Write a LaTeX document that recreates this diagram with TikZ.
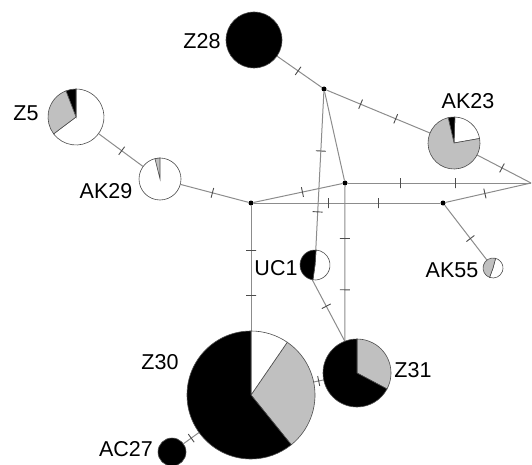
\documentclass[tikz,border=0pt]{standalone}
\usepackage{fontspec}
\setmainfont{Liberation Sans}
\definecolor{piegray}{RGB}{192,192,192}
\definecolor{edgegray}{RGB}{140,140,140}
\tikzset{
  edge/.style={draw=edgegray, line width=1pt},
  tick/.style={sloped, shape=rectangle, draw=black!70, line width=0.9pt, inner sep=0pt, minimum width=0pt, minimum height=10pt},
  junction/.style={circle, fill=black, inner sep=0pt, minimum size=5pt},
  hap/.style={circle, inner sep=0pt, minimum size=#1},
  lbl/.style={font=\fontsize{21.5}{24}\selectfont, inner sep=0pt},
  slice/.style={draw=black!70, line width=0.6pt}
}
\newcommand{\hslice}[5]{\filldraw[slice, fill=#5] (#1.center) -- ++(#3:#2pt) arc[start angle=#3, end angle=#4, radius=#2pt] -- cycle;}
\newcommand{\hfull}[3]{\filldraw[slice, fill=#3] (#1.center) circle[radius=#2pt];}
\begin{document}
\begin{tikzpicture}[x=1pt,y=1pt]
\useasboundingbox (0,0) rectangle (532,-465);
% haplotype nodes
\node[hap=56pt] (Z28) at (254,-40) {};
\node[hap=56pt] (Z5) at (76,-117) {};
\node[hap=42pt] (AK29) at (160,-179) {};
\node[hap=52pt] (AK23) at (454,-143) {};
\node[hap=30pt] (UC1) at (315,-265) {};
\node[hap=128pt] (Z30) at (251,-395) {};
\node[hap=68pt] (Z31) at (357,-373) {};
\node[hap=28pt] (AC27) at (172,-452) {};
\node[hap=20pt] (AK55) at (493,-268) {};
% median vectors
\node[junction] (J1) at (324,-89) {};
\node[junction] (J2) at (345,-183) {};
\node[junction] (J3) at (443,-203) {};
\node[junction] (J4) at (251,-203) {};
\coordinate (V) at (531,-183);
% edges
\draw[edge] (Z28) -- node[tick,pos=0.47]{} (J1);
\draw[edge] (J1) -- node[tick,pos=0.33]{} node[tick,pos=0.67]{} (AK23);
\draw[edge] (AK23) -- node[tick,pos=0.46]{} (V);
\draw[edge] (J1) -- (J2);
\draw[edge] (J1) -- node[tick,pos=0.375]{} node[tick,pos=0.76]{} (UC1);
\draw[edge] (J2) -- node[tick,pos=0.286]{} node[tick,pos=0.59]{} (V);
\draw[edge] (J3) -- node[tick,pos=0.46]{} (V);
\draw[edge] (J4) -- node[tick,pos=0.40]{} node[tick,pos=0.67]{} (J3);
\draw[edge] (J4) -- node[tick,pos=0.55]{} (J2);
\draw[edge] (J2) -- node[tick,pos=0.34]{} node[tick,pos=0.67]{} (Z31.111);
\draw[edge] (J4) -- node[tick,pos=0.36]{} node[tick,pos=0.72]{} (Z30.north);
\draw[edge] (AK29) -- node[tick,pos=0.47]{} (J4);
\draw[edge] (Z5) -- node[tick,pos=0.52]{} (AK29);
\draw[edge] (UC1.260) -- node[tick,pos=0.43]{} (Z31.111);
\draw[edge] (Z30) -- node[tick,pos=0.5]{} (Z31);
\draw[edge] (AC27) -- node[tick,pos=0.5]{} (Z30);
\draw[edge] (J3) -- node[tick,pos=0.61]{} (AK55);
% pies
\hfull{Z28}{28}{black}
\hslice{Z5}{28}{-143}{90}{white}
\hslice{Z5}{28}{90}{111}{black}
\hslice{Z5}{28}{111}{217}{piegray}
\hfull{AK29}{21}{white}
\hslice{AK29}{21}{90}{104}{piegray}
\hslice{AK23}{26}{10}{88}{white}
\hslice{AK23}{26}{88}{103}{black}
\hslice{AK23}{26}{103}{370}{piegray}
\hslice{UC1}{15}{-98}{86}{white}
\hslice{UC1}{15}{86}{262}{black}
\hslice{AK55}{10}{-110}{75}{white}
\hslice{AK55}{10}{75}{250}{piegray}
\hslice{Z30}{64}{-51}{55.5}{piegray}
\hslice{Z30}{64}{55.5}{90}{white}
\hslice{Z30}{64}{90}{309}{black}
\hslice{Z31}{34}{-28}{90}{piegray}
\hslice{Z31}{34}{90}{332}{black}
\hfull{AC27}{14}{black}
% labels
\node[lbl] (lZ28) at (202,-41) {Z28};
\node[lbl] (lZ5) at (26,-113) {Z5};
\node[lbl] (lAK29) at (106,-191) {AK29};
\node[lbl] (lAK23) at (468,-101) {AK23};
\node[lbl] (lUC1) at (276,-268) {UC1};
\node[lbl] (lAK55) at (452,-270) {AK55};
\node[lbl] (lZ30) at (160,-362) {Z30};
\node[lbl] (lZ31) at (413,-370) {Z31};
\node[lbl] (lAC27) at (126,-449) {AC27};
\end{tikzpicture}
\end{document}
